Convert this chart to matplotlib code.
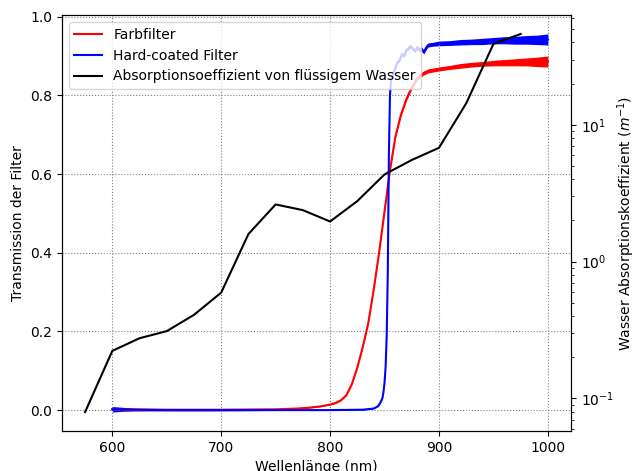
import matplotlib
matplotlib.use("Agg")
import matplotlib.pyplot as plt
import numpy as np

# Farbfilter (red) transmission
red_wl = [600, 650, 700, 750, 770, 780, 790, 800, 805, 810, 815, 820, 825, 830,
          835, 840, 845, 850, 855, 860, 865, 870, 875, 880, 885, 890, 900, 910,
          920, 930, 940, 950, 960, 970, 980, 990, 1000]
red_t = [0.002, 0.001, 0.001, 0.002, 0.004, 0.006, 0.009, 0.014, 0.018, 0.025,
         0.038, 0.066, 0.108, 0.16, 0.22, 0.305, 0.40, 0.505, 0.61, 0.695, 0.75,
         0.79, 0.82, 0.843, 0.855, 0.862, 0.867, 0.871, 0.875, 0.878, 0.88,
         0.882, 0.883, 0.884, 0.885, 0.885, 0.886]
# half width of the measurement noise band
red_noise = [0.004, 0.002, 0.001, 0.001, 0.001, 0.001, 0.001, 0.001, 0.001, 0.001,
             0.001, 0.001, 0.001, 0.001, 0.001, 0.001, 0.001, 0.002, 0.002, 0.003,
             0.003, 0.004, 0.004, 0.004, 0.005, 0.005, 0.005, 0.005, 0.006, 0.006,
             0.006, 0.007, 0.008, 0.009, 0.01, 0.012, 0.014]

# Hard-coated Filter (blue) transmission
blue_wl = [600, 610, 620, 650, 700, 750, 800, 830, 840, 844, 846, 848, 849, 850,
           851, 852, 853, 854, 855, 856, 858, 860, 862, 864, 866, 868, 870, 872,
           874, 876, 878, 880, 882, 884, 886, 888, 890, 895, 900, 910, 920, 930,
           940, 950, 960, 970, 980, 990, 1000]
blue_t = [0.002, 0.002, 0.001, 0.0, 0.0, 0.0, 0.0, 0.001, 0.004, 0.01, 0.018,
          0.03, 0.045, 0.07, 0.11, 0.19, 0.35, 0.65, 0.80, 0.84, 0.855, 0.87,
          0.885, 0.89, 0.905, 0.90, 0.915, 0.92, 0.925, 0.918, 0.913, 0.922,
          0.915, 0.918, 0.91, 0.92, 0.928, 0.93, 0.932, 0.933, 0.935, 0.936,
          0.937, 0.939, 0.94, 0.94, 0.941, 0.941, 0.942]
blue_noise = [0.007, 0.005, 0.003, 0.002, 0.002, 0.001, 0.001, 0.001, 0.001, 0.001,
              0.001, 0.001, 0.001, 0.001, 0.001, 0.001, 0.001, 0.001, 0.002, 0.003,
              0.004, 0.004, 0.004, 0.004, 0.004, 0.004, 0.004, 0.004, 0.004, 0.004,
              0.004, 0.005, 0.005, 0.005, 0.005, 0.005, 0.005, 0.005, 0.006, 0.006,
              0.007, 0.007, 0.008, 0.008, 0.009, 0.01, 0.011, 0.012, 0.014]

# absorption coefficient of liquid water (1/m)
water_wl = [575, 600, 625, 650, 675, 700, 725, 750, 775, 800, 825, 850, 875,
            900, 925, 950, 975]
water_a = [0.0794, 0.2224, 0.2752, 0.310, 0.4078, 0.593, 1.589, 2.616, 2.377,
           1.963, 2.768, 4.335, 5.528, 6.786, 14.349, 38.993, 46.118]

fig, ax1 = plt.subplots(figsize=(6.32, 4.71), dpi=100)
fig.subplots_adjust(left=0.098, right=0.9035, top=0.968, bottom=0.085)

rw, rt, rn = np.array(red_wl), np.array(red_t), np.array(red_noise)
bw, bt, bn = np.array(blue_wl), np.array(blue_t), np.array(blue_noise)

ax1.fill_between(rw, rt - rn, rt + rn, color='red', linewidth=0)
l1, = ax1.plot(rw, rt, color='red', linewidth=1.5, label='Farbfilter')
ax1.fill_between(bw, bt - bn, bt + bn, color='blue', linewidth=0)
l2, = ax1.plot(bw, bt, color='blue', linewidth=1.5, label='Hard-coated Filter')

ax1.set_xlabel('Wellenlänge (nm)')
ax1.set_ylabel('Transmission der Filter')
ax1.grid(True, linestyle=':', color='grey')

ax2 = ax1.twinx()
l3, = ax2.plot(water_wl, water_a, color='black', linewidth=1.5,
               label='Absorptionsoeffizient von flüssigem Wasser')
ax2.set_yscale('log')
ax2.set_ylabel('Wasser Absorptionskoeffizient ($m^{-1}$)', labelpad=1)

ax2.legend(handles=[l1, l2, l3], loc='upper left')

plt.savefig('out.png', dpi=100)
